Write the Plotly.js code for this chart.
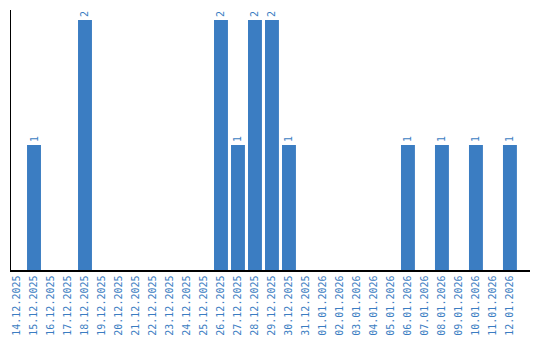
<!DOCTYPE html>
<html>
<head>
<meta charset="utf-8">
<script src="https://cdn.plot.ly/plotly-3.0.1.min.js"></script>
<style>html,body{margin:0;padding:0;background:#fff;}#chart{width:540px;height:340px;}</style>
</head>
<body>
<div id="chart"></div>
<script>
const dates = ["14.12.2025","15.12.2025","16.12.2025","17.12.2025","18.12.2025","19.12.2025","20.12.2025","21.12.2025","22.12.2025","23.12.2025","24.12.2025","25.12.2025","26.12.2025","27.12.2025","28.12.2025","29.12.2025","30.12.2025","31.12.2025","01.01.2026","02.01.2026","03.01.2026","04.01.2026","05.01.2026","06.01.2026","07.01.2026","08.01.2026","09.01.2026","10.01.2026","11.01.2026","12.01.2026"];
const counts = [0,1,0,0,2,0,0,0,0,0,0,0,2,1,2,2,1,0,0,0,0,0,0,1,0,1,0,1,0,1];
const labels = counts.map(v => v > 0 ? String(v) : "");
const blue = "#3b7dc2";
Plotly.newPlot("chart", [{
  type: "bar",
  x: dates,
  y: counts,
  text: labels,
  textposition: "outside",
  textangle: -90,
  constraintext: "none",
  cliponaxis: false,
  textfont: {family: "DejaVu Sans Mono", size: 10, color: blue},
  marker: {color: blue},
  width: 0.82,
  hoverinfo: "none"
}], {
  width: 540, height: 340,
  margin: {l: 11, r: 10, t: 10, b: 70, pad: 0},
  paper_bgcolor: "#fff", plot_bgcolor: "#fff",
  showlegend: false,
  xaxis: {
    type: "category",
    range: [-0.353, 30.18],
    showline: true, linecolor: "#000", linewidth: 1.5,
    showgrid: false, zeroline: false,
    ticks: "", tickangle: -90,
    tickfont: {family: "DejaVu Sans Mono", size: 10, color: blue}
  },
  yaxis: {
    range: [0, 2.08],
    showline: true, linecolor: "#000", linewidth: 1.5,
    showgrid: false, zeroline: false,
    showticklabels: false, ticks: ""
  }
}, {staticPlot: true});
</script>
</body>
</html>
